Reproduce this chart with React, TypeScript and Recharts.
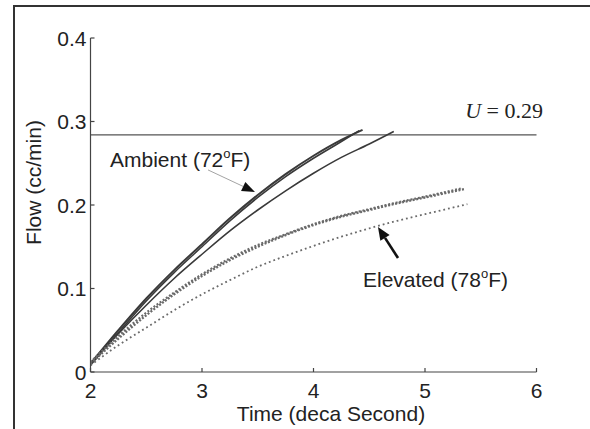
import React from 'react';
import { LineChart, Line, XAxis, YAxis, ReferenceLine, ReferenceDot } from 'recharts';

// time in deca-seconds, flow in cc/min
const ambientTimeA = [2, 2.25, 2.5, 2.75, 3, 3.25, 3.5, 3.75, 4, 4.25, 4.44];
const ambientFlowA = [0.010, 0.050, 0.088, 0.122, 0.153, 0.184, 0.212, 0.237, 0.259, 0.278, 0.290];
const ambientTimeB = [2, 2.25, 2.5, 2.75, 3, 3.25, 3.5, 3.75, 4, 4.25, 4.41];
const ambientFlowB = [0.008, 0.047, 0.085, 0.119, 0.150, 0.181, 0.209, 0.234, 0.256, 0.276, 0.289];
const ambientTimeC = [2, 2.25, 2.5, 2.75, 3, 3.25, 3.5, 3.75, 4, 4.25, 4.5, 4.72];
const ambientFlowC = [0.010, 0.046, 0.080, 0.112, 0.141, 0.169, 0.194, 0.217, 0.238, 0.257, 0.273, 0.288];

const elevatedTimeA = [2, 2.25, 2.5, 2.75, 3, 3.25, 3.5, 3.75, 4, 4.25, 4.5, 4.75, 5, 5.35];
const elevatedFlowA = [0.010, 0.040, 0.068, 0.093, 0.115, 0.134, 0.150, 0.164, 0.176, 0.186, 0.194, 0.202, 0.209, 0.219];
const elevatedTimeB = [2, 2.25, 2.5, 2.75, 3, 3.25, 3.5, 3.75, 4, 4.25, 4.5, 4.75, 5, 5.33];
const elevatedFlowB = [0.012, 0.043, 0.071, 0.095, 0.117, 0.136, 0.152, 0.165, 0.177, 0.187, 0.195, 0.203, 0.210, 0.220];
const elevatedTimeC = [2, 2.25, 2.5, 2.75, 3, 3.25, 3.5, 3.75, 4, 4.25, 4.5, 4.75, 5, 5.38];
const elevatedFlowC = [0.008, 0.032, 0.053, 0.074, 0.093, 0.110, 0.126, 0.139, 0.151, 0.162, 0.172, 0.181, 0.189, 0.201];

const xTicks = [2, 3, 4, 5, 6];
const yTicks = [0, 0.1, 0.2, 0.3, 0.4];
const uLevel = 0.284;

const rows = (ts: number[], vs: number[]) => ts.map((t, i) => ({ t, v: vs[i] }));

const sans = '"Liberation Sans", Arial, sans-serif';
const serif = '"Liberation Serif", "Times New Roman", serif';

const XTick = (props: any) => {
  const { x, y, payload } = props;
  return (
    <g>
      <line x1={x} y1={y} x2={x} y2={y - 4} stroke="#444" strokeWidth={1.2} />
      <text x={x} y={y + 26} textAnchor="middle" fontSize={21} fill="#222" fontFamily={sans}>
        {payload.value}
      </text>
    </g>
  );
};

const YTick = (props: any) => {
  const { x, y, payload } = props;
  return (
    <g>
      <line x1={x} y1={y} x2={x + 4} y2={y} stroke="#444" strokeWidth={1.2} />
      <text x={x - 4} y={y + 7.5} textAnchor="end" fontSize={21} fill="#222" fontFamily={sans}>
        {payload.value}
      </text>
    </g>
  );
};

const arrow = (lineColor: string, lineWidth: number, headLen: number, headHalf: number) => (p: any) => {
  const { x1, y1, x2, y2 } = p;
  const a = Math.atan2(y2 - y1, x2 - x1);
  const bx = x2 - headLen * Math.cos(a);
  const by = y2 - headLen * Math.sin(a);
  const nx = -Math.sin(a) * headHalf;
  const ny = Math.cos(a) * headHalf;
  return (
    <g>
      <line x1={x1} y1={y1} x2={bx} y2={by} stroke={lineColor} strokeWidth={lineWidth} />
      <polygon points={`${x2},${y2} ${bx + nx},${by + ny} ${bx - nx},${by - ny}`} fill="#111" />
    </g>
  );
};

const degLabel = (name: string, temp: string) => (p: any) => (
  <text x={p.cx} y={p.cy} fontSize={21} fill="#222" fontFamily={sans}>
    {name} ({temp}
    <tspan dy={-9} fontSize={13}>o</tspan>
    <tspan dy={9}>F)</tspan>
  </text>
);

export default function App() {
  return (
    <div style={{ position: 'absolute', left: 0, top: 0, width: 590, height: 429, background: '#fff' }}>
      <div
        style={{
          position: 'absolute',
          left: 13,
          top: 5,
          width: 577,
          height: 424,
          boxSizing: 'border-box',
          borderLeft: '2px solid #333',
          borderTop: '2px solid #333',
        }}
      />
      <div style={{ position: 'absolute', left: 0, top: 0 }}>
        <LineChart width={590} height={429} margin={{ top: 38, right: 53.5, left: 30.5, bottom: 17 }}>
          <XAxis
            type="number"
            dataKey="t"
            domain={[2, 6]}
            ticks={xTicks}
            height={40}
            tickSize={0}
            tickMargin={0}
            tick={<XTick />}
            stroke="#444"
            strokeWidth={1.2}
            allowDataOverflow
            label={{
              content: (p: any) => (
                <text
                  x={p.viewBox.x + p.viewBox.width / 2 + 17.5}
                  y={p.viewBox.y + 49}
                  textAnchor="middle"
                  fontSize={21}
                  fill="#222"
                  fontFamily={sans}
                >
                  Time (deca Second)
                </text>
              ),
            }}
          />
          <YAxis
            type="number"
            domain={[0, 0.4]}
            ticks={yTicks}
            width={60}
            tickSize={0}
            tickMargin={0}
            tick={<YTick />}
            stroke="#444"
            strokeWidth={1.2}
            allowDataOverflow
            label={{
              content: (p: any) => {
                const cx = p.viewBox.x + p.viewBox.width - 49.5;
                const cy = p.viewBox.y + p.viewBox.height / 2 - 22.5;
                return (
                  <text
                    x={cx}
                    y={cy}
                    transform={`rotate(-90 ${cx} ${cy})`}
                    textAnchor="middle"
                    fontSize={21}
                    fill="#222"
                    fontFamily={sans}
                  >
                    Flow (cc/min)
                  </text>
                );
              },
            }}
          />
          <ReferenceLine y={uLevel} stroke="#555" strokeWidth={1.3} />

          <Line data={rows(ambientTimeA, ambientFlowA)} dataKey="v" type="monotone" stroke="#3a3a3a" strokeWidth={2} dot={false} isAnimationActive={false} />
          <Line data={rows(ambientTimeB, ambientFlowB)} dataKey="v" type="monotone" stroke="#3a3a3a" strokeWidth={1.6} dot={false} isAnimationActive={false} />
          <Line data={rows(ambientTimeC, ambientFlowC)} dataKey="v" type="monotone" stroke="#3a3a3a" strokeWidth={1.6} dot={false} isAnimationActive={false} />

          <Line data={rows(elevatedTimeA, elevatedFlowA)} dataKey="v" type="monotone" stroke="#6a6a6a" strokeWidth={2.4} strokeDasharray="2 1.6" dot={false} isAnimationActive={false} />
          <Line data={rows(elevatedTimeB, elevatedFlowB)} dataKey="v" type="monotone" stroke="#6a6a6a" strokeWidth={2.2} strokeDasharray="2 1.8" dot={false} isAnimationActive={false} />
          <Line data={rows(elevatedTimeC, elevatedFlowC)} dataKey="v" type="monotone" stroke="#6a6a6a" strokeWidth={1.8} strokeDasharray="1.8 3" dot={false} isAnimationActive={false} />

          <ReferenceLine segment={[{ x: 3.054, y: 0.242 }, { x: 3.475, y: 0.2156 }]} shape={arrow('#999', 0.9, 13, 5)} />
          <ReferenceLine segment={[{ x: 4.758, y: 0.1365 }, { x: 4.578, y: 0.1737 }]} shape={arrow('#111', 2.6, 13, 5.5)} />

          <ReferenceDot x={2.175} y={0.2455} r={0} shape={degLabel('Ambient', '72')} />
          <ReferenceDot x={4.444} y={0.102} r={0} shape={degLabel('Elevated', '78')} />
          <ReferenceDot
            x={5.36}
            y={0.304}
            r={0}
            shape={(p: any) => (
              <text x={p.cx} y={p.cy} fontSize={22} fill="#222" fontFamily={serif}>
                <tspan fontStyle="italic">U</tspan> = 0.29
              </text>
            )}
          />
        </LineChart>
      </div>
    </div>
  );
}
